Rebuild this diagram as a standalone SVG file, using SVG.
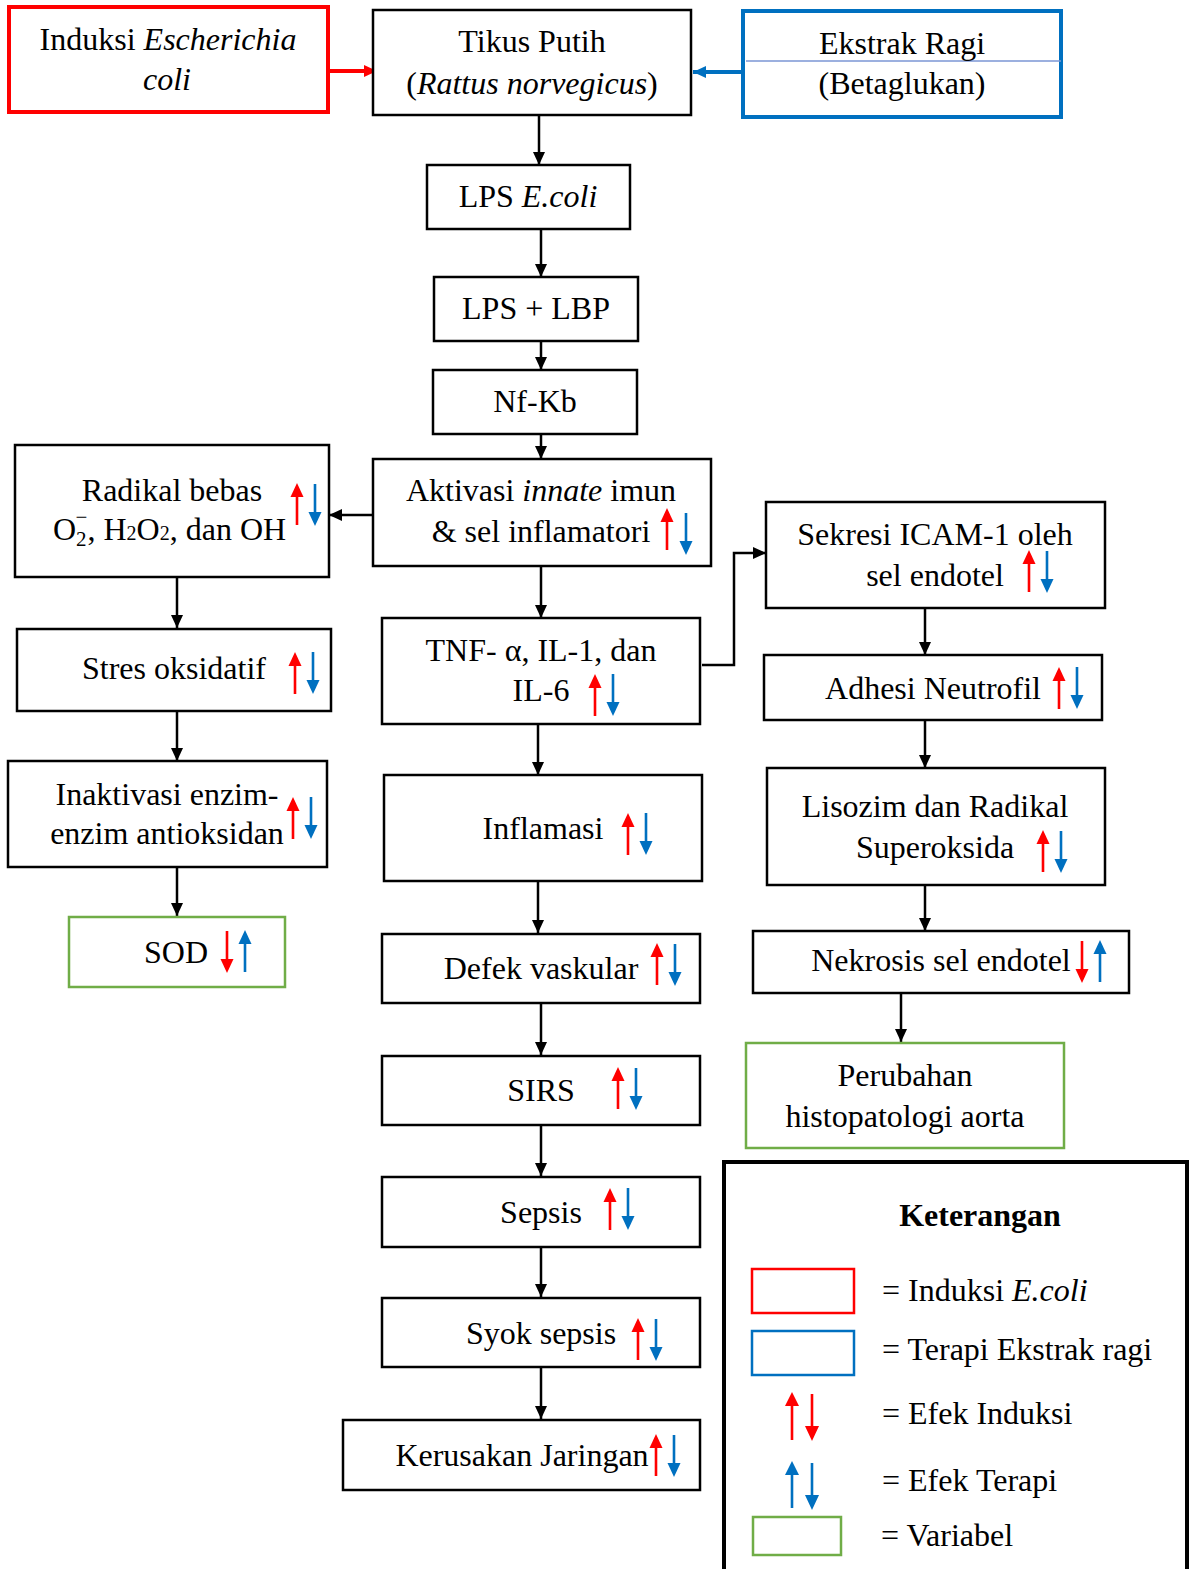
<svg xmlns="http://www.w3.org/2000/svg" xmlns:xlink="http://www.w3.org/1999/xlink" width="1195" height="1569" viewBox="0 0 1195 1569">
<style>
text{font-family:"Liberation Serif","Times New Roman",serif;font-size:32px;fill:#000}
.m{text-anchor:middle}
.i{font-style:italic}
.box{fill:#fff;stroke:#000;stroke-width:2.5}
.red{fill:#fff;stroke:#FF0000;stroke-width:4}
.blue{fill:#fff;stroke:#0070C0;stroke-width:4}
.green{fill:#fff;stroke:#70AD47;stroke-width:2.5}
.c{fill:none;stroke:#000;stroke-width:2.5;marker-end:url(#ah)}
</style>
<defs>
<marker id="ah" markerUnits="userSpaceOnUse" markerWidth="14" markerHeight="14" refX="13" refY="7" orient="auto"><path d="M0,1 L13,7 L0,13 z" fill="#000"/></marker>
<marker id="ahr" markerUnits="userSpaceOnUse" markerWidth="14" markerHeight="14" refX="13" refY="7" orient="auto"><path d="M0,1 L13,7 L0,13 z" fill="#FF0000"/></marker>
<marker id="ahb" markerUnits="userSpaceOnUse" markerWidth="14" markerHeight="14" refX="13" refY="7" orient="auto"><path d="M0,1 L13,7 L0,13 z" fill="#0070C0"/></marker>
<g id="ur"><line x1="0" y1="12" x2="0" y2="42" stroke="#FF0000" stroke-width="2.6"/><polygon points="0,0 -6.5,14 6.5,14" fill="#FF0000"/></g>
<g id="dr"><line x1="0" y1="0" x2="0" y2="30" stroke="#FF0000" stroke-width="2.6"/><polygon points="0,42 -6.5,28 6.5,28" fill="#FF0000"/></g>
<g id="ub"><line x1="0" y1="12" x2="0" y2="42" stroke="#0070C0" stroke-width="2.6"/><polygon points="0,0 -6.5,14 6.5,14" fill="#0070C0"/></g>
<g id="db"><line x1="0" y1="0" x2="0" y2="30" stroke="#0070C0" stroke-width="2.6"/><polygon points="0,42 -6.5,28 6.5,28" fill="#0070C0"/></g>
</defs>
<rect width="1195" height="1569" fill="#fff"/>

<g id="connectors">
<line x1="329" y1="71" x2="377" y2="71" stroke="#FF0000" stroke-width="4" marker-end="url(#ahr)"/>
<line x1="743" y1="72" x2="693" y2="72" stroke="#0070C0" stroke-width="4" marker-end="url(#ahb)"/>
<line class="c" x1="539" y1="116" x2="539" y2="165"/>
<line class="c" x1="541" y1="229" x2="541" y2="277"/>
<line class="c" x1="541" y1="341" x2="541" y2="370"/>
<line class="c" x1="541" y1="434" x2="541" y2="459"/>
<line class="c" x1="373" y1="515" x2="329" y2="515"/>
<line class="c" x1="177" y1="577" x2="177" y2="628"/>
<line class="c" x1="177" y1="711" x2="177" y2="761"/>
<line class="c" x1="177" y1="867" x2="177" y2="916"/>
<line class="c" x1="541" y1="566" x2="541" y2="618"/>
<polyline class="c" points="702,665 734,665 734,553 766,553"/>
<line class="c" x1="538" y1="724" x2="538" y2="775"/>
<line class="c" x1="538" y1="881" x2="538" y2="933"/>
<line class="c" x1="541" y1="1003" x2="541" y2="1055"/>
<line class="c" x1="541" y1="1125" x2="541" y2="1176"/>
<line class="c" x1="541" y1="1247" x2="541" y2="1297"/>
<line class="c" x1="541" y1="1367" x2="541" y2="1419"/>
<line class="c" x1="925" y1="608" x2="925" y2="655"/>
<line class="c" x1="925" y1="720" x2="925" y2="768"/>
<line class="c" x1="925" y1="885" x2="925" y2="931"/>
<line class="c" x1="901" y1="993" x2="901" y2="1042"/>
</g>

<g id="induksi">
<rect class="red" x="9" y="7" width="319" height="105"/>
<text class="m" x="168" y="50">Induksi <tspan class="i">Escherichia</tspan></text>
<text class="m i" x="167" y="90">coli</text>
</g>
<g id="tikus">
<rect class="box" x="373" y="10" width="318" height="105"/>
<text class="m" x="532" y="52">Tikus Putih</text>
<text class="m" x="532" y="94">(<tspan class="i">Rattus norvegicus</tspan>)</text>
</g>
<g id="ekstrak">
<rect class="blue" x="743" y="11" width="318" height="106"/>
<line x1="746" y1="61" x2="1061" y2="61" stroke="#7B96D4" stroke-width="1.5"/>
<text class="m" x="902" y="54">Ekstrak Ragi</text>
<text class="m" x="902" y="94">(Betaglukan)</text>
</g>
<g id="lps">
<rect class="box" x="427" y="165" width="203" height="64"/>
<text class="m" x="528" y="207">LPS <tspan class="i">E.coli</tspan></text>
</g>
<g id="lpslbp">
<rect class="box" x="434" y="277" width="204" height="64"/>
<text class="m" x="536" y="319">LPS + LBP</text>
</g>
<g id="nfkb">
<rect class="box" x="433" y="370" width="204" height="64"/>
<text class="m" x="535" y="412">Nf-Kb</text>
</g>
<g id="aktivasi">
<rect class="box" x="373" y="459" width="338" height="107"/>
<text class="m" x="541" y="501">Aktivasi <tspan class="i">innate</tspan> imun</text>
<text class="m" x="541" y="542">&amp; sel inflamatori</text>
<use href="#ur" x="667" y="508"/><use href="#db" x="686" y="513"/>
</g>
<g id="radikal">
<rect class="box" x="15" y="445" width="314" height="132"/>
<text class="m" x="172" y="501">Radikal bebas</text>
<text x="53" y="540">O<tspan style="font-size:21px" dy="6">2</tspan><tspan style="font-size:21px" dx="-11" dy="-22">−</tspan><tspan dy="16">, H</tspan><tspan style="font-size:20px">2</tspan>O<tspan style="font-size:20px">2</tspan>, dan OH</text>
<use href="#ur" x="297" y="483"/><use href="#db" x="315" y="484"/>
</g>
<g id="stres">
<rect class="box" x="17" y="629" width="314" height="82"/>
<text class="m" x="174" y="679">Stres oksidatif</text>
<use href="#ur" x="295" y="652"/><use href="#db" x="313" y="652"/>
</g>
<g id="inaktivasi">
<rect class="box" x="8" y="761" width="319" height="106"/>
<text class="m" x="167" y="805">Inaktivasi enzim-</text>
<text class="m" x="167" y="844">enzim antioksidan</text>
<use href="#ur" x="293" y="797"/><use href="#db" x="311" y="797"/>
</g>
<g id="sod">
<rect class="green" x="69" y="917" width="216" height="70"/>
<text class="m" x="176" y="963">SOD</text>
<use href="#dr" x="227" y="931"/><use href="#ub" x="245" y="930"/>
</g>
<g id="tnf">
<rect class="box" x="382" y="618" width="318" height="106"/>
<text class="m" x="541" y="661">TNF- α, IL-1, dan</text>
<text class="m" x="541" y="701">IL-6</text>
<use href="#ur" x="595" y="674"/><use href="#db" x="613" y="674"/>
</g>
<g id="inflamasi">
<rect class="box" x="384" y="775" width="318" height="106"/>
<text class="m" x="543" y="839">Inflamasi</text>
<use href="#ur" x="628" y="813"/><use href="#db" x="646" y="813"/>
</g>
<g id="defek">
<rect class="box" x="382" y="934" width="318" height="69"/>
<text class="m" x="541" y="979">Defek vaskular</text>
<use href="#ur" x="657" y="943"/><use href="#db" x="675" y="944"/>
</g>
<g id="sirs">
<rect class="box" x="382" y="1056" width="318" height="69"/>
<text class="m" x="541" y="1101">SIRS</text>
<use href="#ur" x="618" y="1067"/><use href="#db" x="636" y="1068"/>
</g>
<g id="sepsis">
<rect class="box" x="382" y="1177" width="318" height="70"/>
<text class="m" x="541" y="1223">Sepsis</text>
<use href="#ur" x="610" y="1188"/><use href="#db" x="628" y="1188"/>
</g>
<g id="syok">
<rect class="box" x="382" y="1298" width="318" height="69"/>
<text class="m" x="541" y="1344">Syok sepsis</text>
<use href="#ur" x="638" y="1318"/><use href="#db" x="656" y="1319"/>
</g>
<g id="kerusakan">
<rect class="box" x="343" y="1420" width="357" height="70"/>
<text class="m" x="522" y="1466">Kerusakan Jaringan</text>
<use href="#ur" x="656" y="1434"/><use href="#db" x="674" y="1435"/>
</g>
<g id="sekresi">
<rect class="box" x="766" y="502" width="339" height="106"/>
<text class="m" x="935" y="545">Sekresi ICAM-1 oleh</text>
<text class="m" x="935" y="586">sel endotel</text>
<use href="#ur" x="1029" y="550"/><use href="#db" x="1047" y="551"/>
</g>
<g id="adhesi">
<rect class="box" x="764" y="655" width="338" height="65"/>
<text class="m" x="933" y="699">Adhesi Neutrofil</text>
<use href="#ur" x="1059" y="667"/><use href="#db" x="1077" y="667"/>
</g>
<g id="lisozim">
<rect class="box" x="767" y="768" width="338" height="117"/>
<text class="m" x="935" y="817">Lisozim dan Radikal</text>
<text class="m" x="935" y="858">Superoksida</text>
<use href="#ur" x="1043" y="830"/><use href="#db" x="1061" y="831"/>
</g>
<g id="nekrosis">
<rect class="box" x="753" y="931" width="376" height="62"/>
<text class="m" x="941" y="971">Nekrosis sel endotel</text>
<use href="#dr" x="1082" y="941"/><use href="#ub" x="1100" y="940"/>
</g>
<g id="perubahan">
<rect class="green" x="746" y="1043" width="318" height="105"/>
<text class="m" x="905" y="1086">Perubahan</text>
<text class="m" x="905" y="1127">histopatologi aorta</text>
</g>

<g id="legend">
<rect x="724" y="1162" width="463" height="420" fill="#fff" stroke="#000" stroke-width="4"/>
<text class="m" x="980" y="1226" style="font-weight:bold">Keterangan</text>
<rect x="752" y="1269" width="102" height="44" fill="none" stroke="#FF0000" stroke-width="2.5"/>
<text x="882" y="1301">= Induksi <tspan class="i">E.coli</tspan></text>
<rect x="752" y="1331" width="102" height="44" fill="none" stroke="#0070C0" stroke-width="2.5"/>
<text x="882" y="1360">= Terapi Ekstrak ragi</text>
<line x1="792" y1="1404" x2="792" y2="1440" stroke="#FF0000" stroke-width="2.6"/><polygon points="792,1392 785,1406 799,1406" fill="#FF0000"/>
<line x1="812" y1="1394" x2="812" y2="1428" stroke="#FF0000" stroke-width="2.6"/><polygon points="812,1441 805,1426 819,1426" fill="#FF0000"/>
<text x="882" y="1424">= Efek Induksi</text>
<line x1="792" y1="1473" x2="792" y2="1508" stroke="#0070C0" stroke-width="2.6"/><polygon points="792,1461 785,1475 799,1475" fill="#0070C0"/>
<line x1="812" y1="1463" x2="812" y2="1496" stroke="#0070C0" stroke-width="2.6"/><polygon points="812,1510 805,1495 819,1495" fill="#0070C0"/>
<text x="882" y="1491">= Efek Terapi</text>
<rect x="753" y="1517" width="88" height="38" fill="none" stroke="#70AD47" stroke-width="2.5"/>
<text x="881" y="1546">= Variabel</text>
</g>
</svg>
